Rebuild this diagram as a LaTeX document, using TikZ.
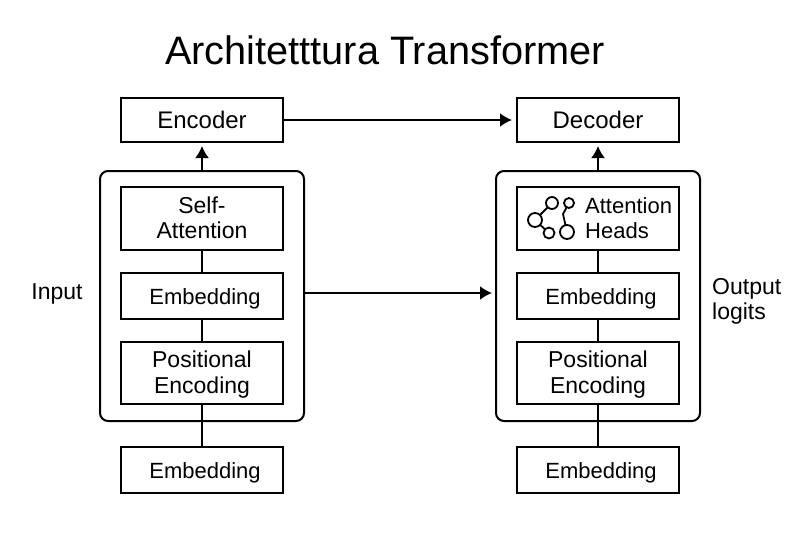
\documentclass[tikz,border=0pt]{standalone}
\usepackage{fontspec}
\setmainfont{Liberation Sans}
\usetikzlibrary{arrows.meta}
\newcommand{\embedtext}{\hspace*{6pt}Embedding}
\tikzset{
  blockbox/.style={draw,line width=2pt,minimum width=162pt,inner sep=0pt,outer sep=0pt,align=center,font=\fontsize{22}{25}\selectfont},
  embedbox/.style={blockbox,minimum height=46pt,text height=22pt,text depth=5pt},
  posbox/.style={blockbox,minimum height=62pt,font=\fontsize{23}{25}\selectfont,text depth=1pt},
  stackbox/.style={draw,line width=2pt,rounded corners=8pt,minimum width=204pt,minimum height=250pt,inner sep=0pt,outer sep=0pt},
  plainlabel/.style={inner sep=0pt,font=\fontsize{22}{25}\selectfont},
  headdot/.style={draw,circle,line width=1.8pt,inner sep=0pt,outer sep=0pt},
  link/.style={line width=2pt},
  flow/.style={line width=2pt,-{Latex[length=12pt,width=14pt]}}
}
\begin{document}
\begin{tikzpicture}[x=1pt,y=-1pt]
  \useasboundingbox (0,0) rectangle (800,533);

        \node[plainlabel,font=\fontsize{39.7}{44}\selectfont] (title) at (385,50){Architetttura Transformer};

        % left stack
        \node[stackbox] (stackL) at (202,296){};
        \node[blockbox,minimum height=44pt,font=\fontsize{24}{25}\selectfont] (encoder) at (202,120){Encoder};
        \node[blockbox,minimum height=63pt,font=\fontsize{23}{25}\selectfont,text depth=2pt] (selfatt) at (202,218.5){Self-\\Attention};
        \node[embedbox] (embedL) at (202,296){\embedtext};
        \node[posbox] (posL) at (202,373){Positional\\[1pt]Encoding};
        \node[embedbox] (inL) at (202,470){\embedtext};

        % right stack
        \node[stackbox] (stackR) at (598,296){};
        \node[blockbox,minimum height=44pt,font=\fontsize{24}{25}\selectfont] (decoder) at (598,120){Decoder};
        \node[blockbox,minimum height=63pt] (heads) at (598,218.5){};
        \node[embedbox] (embedR) at (598,296){\embedtext};
        \node[posbox] (posR) at (598,373){Positional\\[1pt]Encoding};
        \node[embedbox] (inR) at (598,470){\embedtext};
        \node[plainlabel,align=left,anchor=west] (headstext) at (585,218){Attention\\Heads};

        % little graph inside the heads box
        \node[headdot,minimum size=12pt] (dotA) at (552,203){};
        \node[headdot,minimum size=10pt] (dotB) at (569,203){};
        \node[headdot,minimum size=14pt] (dotC) at (535,220){};
        \node[headdot,minimum size=11pt] (dotD) at (549,233){};
        \node[headdot,minimum size=14pt] (dotE) at (567,232){};
        \path[draw,line width=1.8pt] (dotC) -- (dotA);
        \path[draw,line width=1.8pt] (dotC) -- (dotD);
        \path[draw,line width=1.8pt] (dotB) -- (563,214) -- (dotE);

        \node[plainlabel,font=\fontsize{23}{25}\selectfont] (input) at (57,294){Input};
        \node[plainlabel,anchor=west,align=left,font=\fontsize{23}{25}\selectfont] (output) at (712,301){Output\\logits};

        \coordinate (midL) at (304,293);
        \coordinate (midR) at (492,293);
        \coordinate (midD) at (512,120);

        \path[draw,flow] (encoder) -- (midD);
        \path[draw,flow] (stackL.north -| encoder) -- (202,146);
        \path[draw,flow] (stackR.north -| decoder) -- (598,146);
        \path[draw,flow] (midL) -- (midR);
        \path[draw,link] (selfatt) -- (embedL);
        \path[draw,link] (embedL) -- (posL);
        \path[draw,link] (posL) -- (inL);
        \path[draw,link] (heads) -- (embedR);
        \path[draw,link] (embedR) -- (posR);
        \path[draw,link] (posR) -- (inR);
\end{tikzpicture}
\end{document}
